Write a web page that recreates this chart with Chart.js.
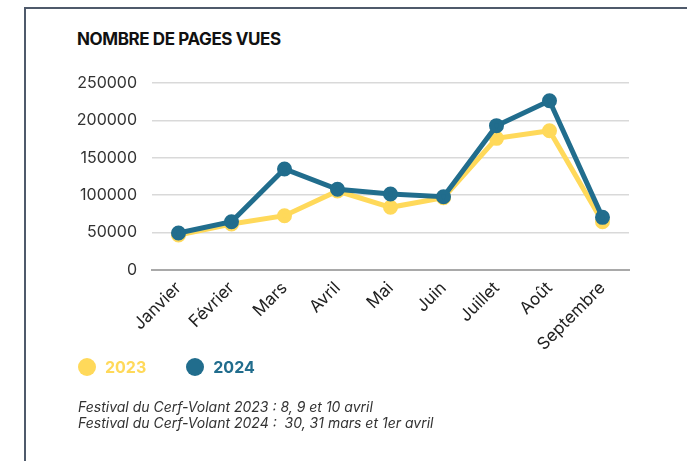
<!DOCTYPE html>
<html lang="fr">
<head>
<meta charset="utf-8">
<script src="https://cdn.jsdelivr.net/npm/chart.js@4.4.1/dist/chart.umd.min.js"></script>
<style>
  html, body { margin: 0; padding: 0; background: #fff; }
  body { width: 687px; height: 461px; position: relative; overflow: hidden; font-family: Inter, "Open Sans", sans-serif; }
  #frame { position: absolute; left: 24px; top: 7px; width: 700px; height: 500px; border-left: 2px solid #4f5a6b; border-top: 2px solid #4f5a6b; }
  #title { position: absolute; left: 77px; top: 29px; font-size: 17px; font-weight: 700; color: #111; letter-spacing: -0.4px; }
  #chart-wrap { position: absolute; left: 0; top: 0; width: 687px; height: 461px; }
  #legend { position: absolute; left: 78px; top: 357px; display: flex; align-items: center; font-size: 16px; font-weight: 700; }
  .legend-item { display: flex; align-items: center; margin-right: 40px; }
  .legend-dot { width: 18px; height: 18px; border-radius: 50%; margin-right: 9px; }
  #note { position: absolute; left: 78px; top: 399px; font-size: 14px; font-style: italic; color: #333; line-height: 16px; }
</style>
</head>
<body>
<div id="frame"></div>
<div id="title">NOMBRE DE PAGES VUES</div>
<div id="chart-wrap"><canvas id="views-chart"></canvas></div>
<div id="legend"></div>
<div id="note">
  Festival du Cerf-Volant 2023 : 8, 9 et 10 avril<br>
  Festival du Cerf-Volant 2024 :&nbsp; 30, 31 mars et 1er avril
</div>
<script>
// months and page views per year
const months = ['Janvier', 'Février', 'Mars', 'Avril', 'Mai', 'Juin', 'Juillet', 'Août', 'Septembre'];
const views2023 = [46800, 61500, 72600, 105600, 83800, 96700, 176000, 186200, 64600];
const views2024 = [49500, 64600, 135000, 107900, 101600, 98000, 193000, 226300, 70400];
const yTicks = [0, 50000, 100000, 150000, 200000, 250000];

const yellow = '#ffd95a';
const blue = '#216d8d';

const datasets = [
    { label: '2023', data: views2023, color: yellow, order: 2 },
    { label: '2024', data: views2024, color: blue, order: 1 }
];

new Chart(document.getElementById('views-chart'), {
    type: 'line',
    data: {
        labels: months,
        datasets: datasets.map(d => ({
            label: d.label,
            data: d.data,
            order: d.order,
            borderColor: d.color,
            backgroundColor: d.color,
            pointBackgroundColor: d.color,
            pointBorderColor: d.color,
            borderWidth: 5,
            pointRadius: 5,
            pointHoverRadius: 5,
            tension: 0,
            fill: false
        }))
    },
    options: {
        responsive: true,
        maintainAspectRatio: false,
        animation: false,
        layout: {
            padding: { left: 60, right: 58, top: 83, bottom: 91 }
        },
        scales: {
            x: {
                offset: true,
                afterFit: s => { s.height = 100; },
                grid: { display: false, drawTicks: false },
                border: { display: true, color: '#a9a9a9', width: 2 },
                ticks: {
                    minRotation: 45,
                    maxRotation: 45,
                    padding: 8,
                    color: '#222',
                    font: { family: 'Inter, "Open Sans", sans-serif', size: 17 }
                }
            },
            y: {
                min: 0,
                max: 250000,
                afterFit: s => { s.width = 92; },
                afterBuildTicks: s => { s.ticks = yTicks.map(v => ({ value: v })); },
                grid: { color: '#d9d9d9', lineWidth: 1.5, drawTicks: false },
                border: { display: false },
                ticks: {
                    padding: 15,
                    color: '#333',
                    font: { family: 'Inter, "Open Sans", sans-serif', size: 16 },
                    callback: v => String(v)
                }
            }
        },
        plugins: {
            legend: { display: false },
            title: { display: false },
            tooltip: { enabled: false }
        }
    }
});

// legend built from the datasets
const legend = document.getElementById('legend');
datasets.forEach(d => {
    const item = document.createElement('div');
    item.className = 'legend-item';
    item.innerHTML = '<span class="legend-dot" style="background:' + d.color + '"></span>' +
        '<span style="color:' + d.color + '">' + d.label + '</span>';
    legend.appendChild(item);
});
</script>
</body>
</html>
